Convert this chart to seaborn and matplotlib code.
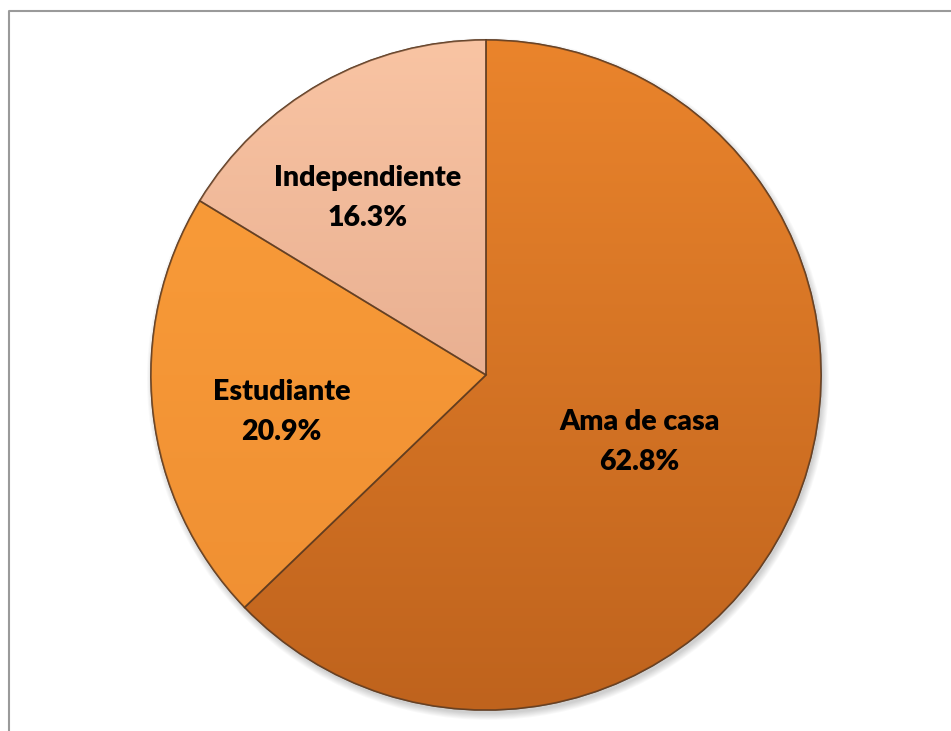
import numpy as np
import matplotlib
matplotlib.use("Agg")
import matplotlib.pyplot as plt
import seaborn as sns
from matplotlib.colors import LinearSegmentedColormap
from matplotlib.patches import Circle, Wedge

sns.set_theme(style="white")
plt.rcParams['font.family'] = ['Lato', 'DejaVu Sans']

categories = ["Ama de casa", "Estudiante", "Independiente"]
values = [62.8, 20.9, 16.3]
pct_labels = ["62.8%", "20.9%", "16.3%"]

# top / bottom colours of each slice's vertical gradient
top_colors = ["#EA842C", "#FB9E3A", "#F9C4A3"]
bot_colors = ["#BF631D", "#EE8E32", "#D99C80"]
flat_colors = ["#D8742A", "#F8993A", "#EFB292"]
label_pos = [(0.50, -23.5), (0.62, -169.7), (0.635, 123.7)]

W, H = 951, 731
fig = plt.figure(figsize=(W / 100, H / 100), dpi=100)
ax = fig.add_axes([0, 0, 1, 1])
ax.set_xlim(0, W)
ax.set_ylim(0, H)
ax.set_aspect("equal")
ax.axis("off")

cx, cy, R = 486, H - 375, 335

# soft drop shadow
for i in range(8):
    ax.add_patch(Circle((cx + 2, cy - 4), R + 6 - i * 0.9, color="#000000",
                        alpha=0.025, lw=0, zorder=1))

wedges, _ = ax.pie(values, colors=flat_colors, startangle=90, counterclock=False,
                   center=(cx, cy), radius=R, frame=True,
                   wedgeprops=dict(edgecolor="#6E4A30", linewidth=1.2))
for w in wedges:
    w.set_zorder(2)

# vertical gradients clipped to wedges
grad = np.linspace(0, 1, 256).reshape(-1, 1)
for w, c1, c2 in zip(wedges, top_colors, bot_colors):
    cmap = LinearSegmentedColormap.from_list("g", [c1, c2])
    im = ax.imshow(grad, cmap=cmap, extent=(cx - R, cx + R, cy - R, cy + R),
                   origin="upper", aspect="auto", zorder=3, interpolation="bilinear")
    im.set_clip_path(w)
    edge = Wedge(w.center, w.r, w.theta1, w.theta2, fill=False,
                 edgecolor=(0.35, 0.22, 0.12, 0.7), linewidth=1.2, zorder=4)
    ax.add_patch(edge)

ax.set_xlim(0, W)
ax.set_ylim(0, H)
ax.axis("off")

for cat, pct, (d, ang) in zip(categories, pct_labels, label_pos):
    x = cx + d * R * np.cos(np.radians(ang))
    y = cy + d * R * np.sin(np.radians(ang))
    ax.text(x, y, f"{cat}\n{pct}", ha="center", va="center", fontsize=20.5,
            fontweight="heavy", color="black", linespacing=1.68, zorder=6)

# outer frame (clipped at the right and bottom edges)
ax.plot([8.5, 8.5, W + 5], [-5, H - 10.5, H - 10.5], color="#9A9A9A", lw=1.5,
        zorder=7, clip_on=False)

fig.savefig("out.png", dpi=100)
